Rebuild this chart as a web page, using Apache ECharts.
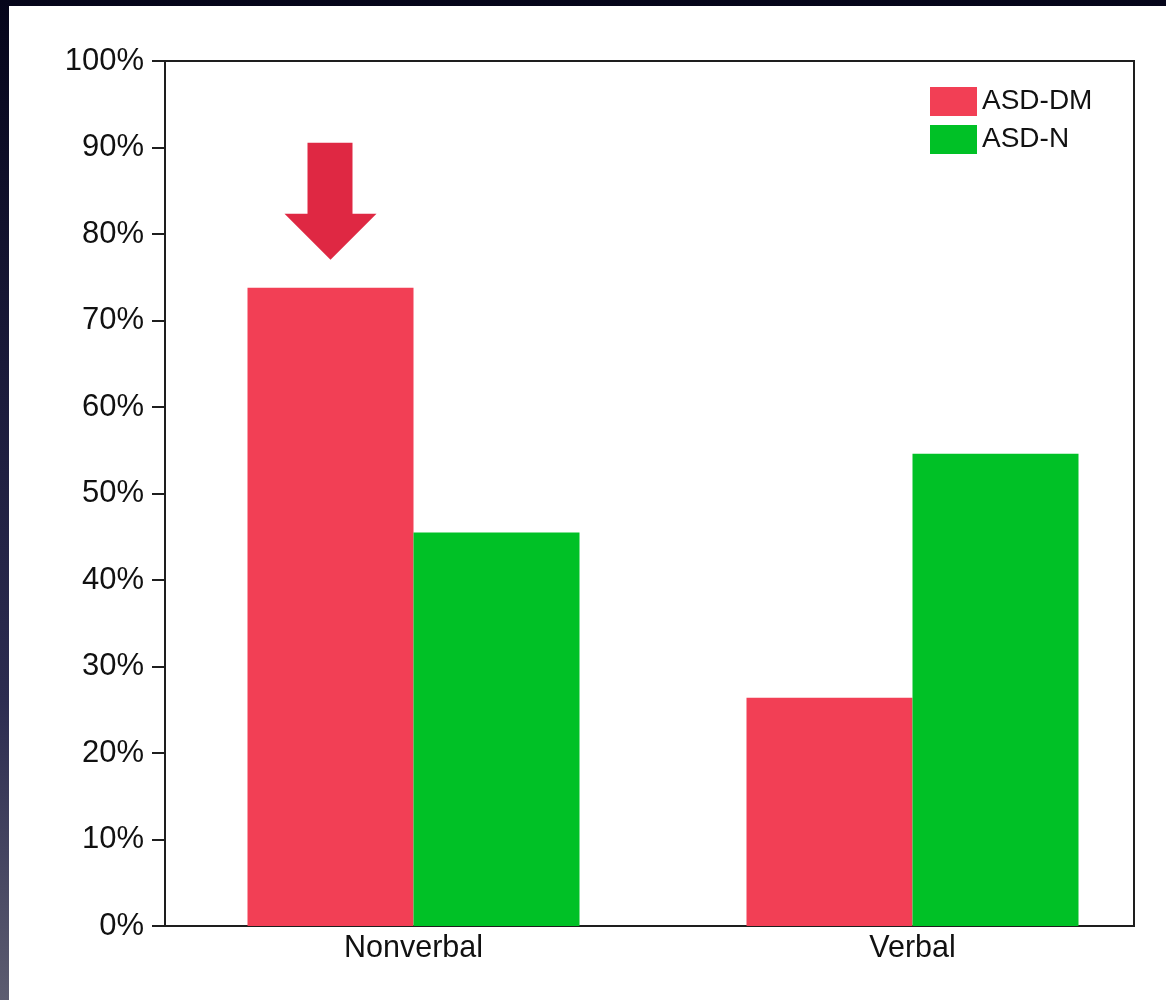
<!DOCTYPE html>
<html>
<head>
<meta charset="utf-8">
<script src="https://cdn.jsdelivr.net/npm/echarts@6/dist/echarts.min.js"></script>
<style>
  html, body { margin: 0; padding: 0; }
  body {
    width: 1166px; height: 1000px; overflow: hidden; position: relative;
    background: linear-gradient(to bottom, #05051a 0%, #1c1c3c 40%, #2c2c50 70%, #5c5c70 100%);
  }
  #chart { position: absolute; left: 9px; top: 6px; width: 1157px; height: 994px; background: #ffffff; }
</style>
</head>
<body>
<div id="chart"></div>
<script>
// Share of participants by language group
const categories = ['Nonverbal', 'Verbal'];
const asdDM = [73.8, 26.4];
const asdN = [45.5, 54.6];
const yTicks = [0, 10, 20, 30, 40, 50, 60, 70, 80, 90, 100];

const font = '"Liberation Sans", Arial, Helvetica, sans-serif';
const arrowPath = 'path://M23 0 L68 0 L68 71 L92 71 L46 117 L0 71 L23 71 Z';

const chart = echarts.init(document.getElementById('chart'), null, { renderer: 'canvas' });

chart.setOption({
  animation: false,
  backgroundColor: '#ffffff',
  textStyle: { fontFamily: font },
  grid: [
    // framed plot area with the percentage scale
    { left: 156, right: 32, top: 55, bottom: 74, show: true, borderColor: '#1e1e1e', borderWidth: 2, backgroundColor: 'transparent' },
    // layout grid for the bars and category labels
    { left: 155, width: 998, top: 55, bottom: 74 }
  ],
  legend: {
    orient: 'vertical',
    left: 916, top: 76,
    itemWidth: 47, itemHeight: 29, itemGap: 9,
    icon: 'rect',
    textStyle: { fontSize: 28, color: '#111', fontFamily: font },
    data: ['ASD-DM', 'ASD-N']
  },
  xAxis: [
    {
      gridIndex: 0, type: 'category', data: categories,
      axisLine: { show: true, lineStyle: { color: '#1e1e1e', width: 2 } },
      axisTick: { show: false }, axisLabel: { show: false }, splitLine: { show: false }
    },
    {
      gridIndex: 1, type: 'category', data: categories,
      axisLine: { show: false }, axisTick: { show: false },
      axisLabel: { show: true, fontSize: 30.5, color: '#111', margin: 7, fontFamily: font }
    }
  ],
  yAxis: [
    {
      gridIndex: 0, type: 'value', min: 0, max: 100, interval: 10,
      axisLine: { show: true, lineStyle: { color: '#1e1e1e', width: 2 } },
      axisTick: { show: true, length: 13, lineStyle: { color: '#1e1e1e', width: 2 } },
      axisLabel: {
        fontSize: 31, color: '#111', margin: 21, fontFamily: font,
        formatter: v => (yTicks.includes(v) ? v + '%' : '')
      },
      splitLine: { show: false }
    },
    {
      gridIndex: 1, type: 'value', min: 0, max: 100, interval: 10, show: false
    }
  ],
  series: [
    {
      name: 'ASD-DM', type: 'bar', xAxisIndex: 1, yAxisIndex: 1,
      data: asdDM, barWidth: 166, barGap: '0%',
      itemStyle: { color: '#f23f55' },
      markPoint: {
        symbol: arrowPath,
        symbolSize: [92, 117],
        symbolOffset: [0, -(117 / 2 + 28)],
        itemStyle: { color: '#df2843' },
        label: { show: false },
        data: [{ coord: [categories[0], asdDM[0]] }]
      }
    },
    {
      name: 'ASD-N', type: 'bar', xAxisIndex: 1, yAxisIndex: 1,
      data: asdN, barWidth: 166, barGap: '0%',
      itemStyle: { color: '#00c126' }
    }
  ]
});
</script>
</body>
</html>
